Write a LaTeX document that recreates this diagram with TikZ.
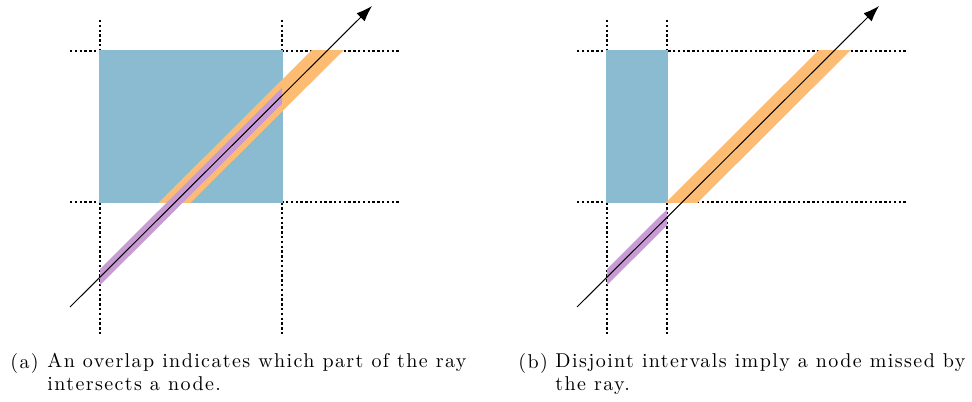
\documentclass[tikz,border=0pt]{standalone}
\usepackage{fontspec}
\newfontfamily\capfont{Latin Modern Roman}[LetterSpace=7]
\usetikzlibrary{arrows.meta}
\usepackage{xcolor}
\definecolor{nodefill}{HTML}{8ABBD0}
\definecolor{rayband}{HTML}{FDBC74}
\definecolor{nodeband}{HTML}{C89BD4}

\begin{document}
\begin{tikzpicture}[x=0.5pt,y=-0.5pt,
    guide/.style={line width=0.6pt,dash pattern=on 1.2pt off 1.2pt},
    slab/.style={fill=nodefill,draw=nodefill,line width=0.8pt},
    tband/.style={line width=11.3pt,rayband},
    nband/.style={line width=5.7pt,nodeband},
    ray/.style={-{Latex[length=2.8mm,width=2mm]},line width=0.5pt},
    subcap/.style={anchor=north west,inner sep=0pt,align=left,
      font=\capfont\fontsize{10}{11.5}\selectfont}]
  \useasboundingbox (0,0) rectangle (972,401);

  % (a) overlap
  \coordinate (ra0) at (70,307);
  \coordinate (ra1) at (372,6);
  \draw[guide] (100,20) -- (100,335);
  \draw[guide] (282,20) -- (282,335);
  \draw[guide] (70,51) -- (400,51);
  \draw[guide] (70,202) -- (400,202);
  \filldraw[slab] (100,51) rectangle (282,202);
  \begin{scope}
    \clip (0,51) rectangle (486,202);
    \draw[tband] (ra0) -- (ra1);
  \end{scope}
  \begin{scope}
    \clip (100,0) rectangle (282,401);
    \draw[nband] (ra0) -- (ra1);
  \end{scope}
  \draw[ray] (ra0) -- (ra1);
  \node[subcap] (la) at (10,353) {(a)};
  \node[subcap] (ta) at (47,353) {An overlap indicates which part of the ray\\intersects a node.};

  % (b) disjoint
  \coordinate (rb0) at (577,307);
  \coordinate (rb1) at (879,6);
  \draw[guide] (607,20) -- (607,335);
  \draw[guide] (667,20) -- (667,335);
  \draw[guide] (577,51) -- (907,51);
  \draw[guide] (577,202) -- (907,202);
  \filldraw[slab] (607,51) rectangle (667,202);
  \begin{scope}
    \clip (486,51) rectangle (972,202);
    \draw[tband] (rb0) -- (rb1);
  \end{scope}
  \begin{scope}
    \clip (607,0) rectangle (667,401);
    \draw[nband] (rb0) -- (rb1);
  \end{scope}
  \draw[ray] (rb0) -- (rb1);
  \node[subcap] (lb) at (518,353) {(b)};
  \node[subcap] (tb) at (555,353) {Disjoint intervals imply a node missed by\\the ray.};
\end{tikzpicture}
\end{document}
